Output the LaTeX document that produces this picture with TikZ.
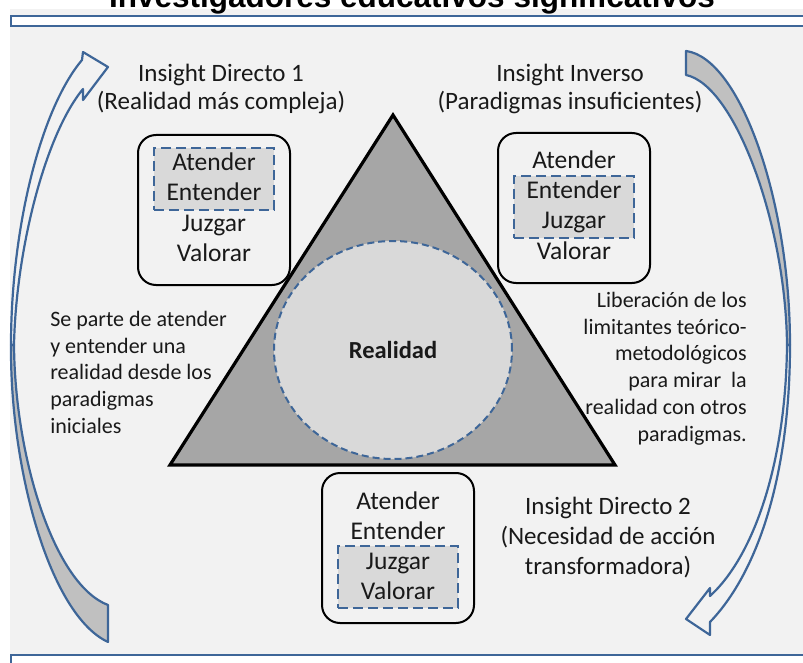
\documentclass[tikz,border=0pt]{standalone}
\usepackage{fontspec}
\setmainfont{Carlito}
\newfontfamily\titulofont{Liberation Sans}
\usetikzlibrary{shapes.geometric}

\definecolor{fondo}{RGB}{242,242,242}
\definecolor{azul}{RGB}{62,102,152}
\definecolor{grisclaro}{RGB}{217,217,217}
\definecolor{grismedio}{RGB}{166,166,166}
\definecolor{griscola}{RGB}{192,192,192}
\definecolor{texto}{RGB}{25,25,25}

\newcommand{\pasos}[4]{
	\node[caja] (#1) at (#2, #3 + 47) {};
	\node[resalte] (#1-r) at (#2, #3 + #4*30 + 16) {};
	\node[paso] (#1-a) at (#2, #3 + 8) {Atender};
	\node[paso] (#1-e) at (#2, #3 + 38) {Entender};
	\node[paso] (#1-j) at (#2, #3 + 68) {Juzgar};
	\node[paso] (#1-v) at (#2, #3 + 98) {Valorar};
}

\begin{document}
\begin{tikzpicture}[x=1pt,y=-1pt,semithick,text=texto,
	caja/.style={draw=black,line width=2,rounded corners=18,minimum width=152,minimum height=150,inner sep=0},
	resalte/.style={draw=azul,fill=grisclaro,line width=2.6,dash pattern=on 10pt off 5pt,minimum width=120,minimum height=62,inner sep=0},
	paso/.style={anchor=base,inner sep=0,font=\fontsize{25.5}{30}\selectfont},
	titular/.style={align=center,inner sep=0,font=\fontsize{25}{28}\selectfont},
	nota/.style={inner sep=0,font=\fontsize{22}{26.7}\selectfont},
	titulo/.style={anchor=base,inner sep=0,text=black,font=\titulofont\bfseries\fontsize{31.5}{36}\selectfont},
	barra/.style={draw=azul,fill=white,line width=2},
	flecha/.style={draw=azul,line width=2.2,line join=round},
	triangulo/.style={draw=black,fill=grismedio,line width=3.2},
	realidad/.style={ellipse,draw=azul,fill=grisclaro,line width=2,dash pattern=on 7pt off 4pt,minimum width=238,minimum height=218,inner sep=0,font=\bfseries\fontsize{24.5}{28}\selectfont}]
	\useasboundingbox (0,0) rectangle (803,663);
	\clip (0,0) rectangle (803,663);
	\fill[fondo] (10,9) rectangle (803,663);
	\node[titulo] (titulo) at (412,7.5) {Investigadores educativos significativos};
	\draw[barra] (11,16) rectangle (815,26);
	\draw[barra] (11,655) rectangle (815,665);

	\draw[flecha,fill=fondo] (11,345) .. controls (11,230) and (40,110) .. (82,60) -- (83,52) -- (108,67) -- (83,100) -- (83,89) .. controls (45,135) and (16,250) .. (14,345) -- cycle;
	\draw[flecha,fill=griscola] (11,345) .. controls (10,470) and (50,615) .. (108,642) -- (108,605) .. controls (55,585) and (15,460) .. (14,345) -- cycle;
	\draw[flecha,fill=griscola] (686,51) .. controls (740,58) and (790,200) .. (790,345) -- (787,345) .. controls (786,225) and (735,85) .. (686,75) -- cycle;
	\draw[flecha,fill=fondo] (790,345) .. controls (790,470) and (760,570) .. (710,622) -- (710,635) -- (686,619) -- (710,588) -- (710,596) .. controls (755,555) and (786,460) .. (787,345) -- cycle;

	\draw[triangulo] (393,115) -- (170,465) -- (615,465) -- cycle;
	\node[realidad] (realidad) at (393,350) {Realidad};

	\pasos{directo1-caja}{214}{163}{0}
	\pasos{inverso-caja}{574}{161}{1}
	\pasos{directo2-caja}{398}{501}{2}

	\node[titular] (directo1) at (221,89) {Insight Directo 1\\(Realidad más compleja)};
	\node[titular] (inverso) at (570,89) {Insight Inverso\\(Paradigmas insuficientes)};
	\node[titular,font=\fontsize{25}{30}\selectfont] (directo2) at (608,538) {Insight Directo 2\\(Necesidad de acción\\transformadora)};
	\node[nota,align=left,anchor=north west] (parte) at (50,311) {Se parte de atender\\y entender una\\realidad desde los\\paradigmas\\iniciales};
	\node[nota,align=right,anchor=north east] (liberacion) at (747,292) {Liberación de los\\limitantes teórico-\\metodológicos\\para mirar\ \ la\\realidad con otros\\paradigmas.};
\end{tikzpicture}
\end{document}
